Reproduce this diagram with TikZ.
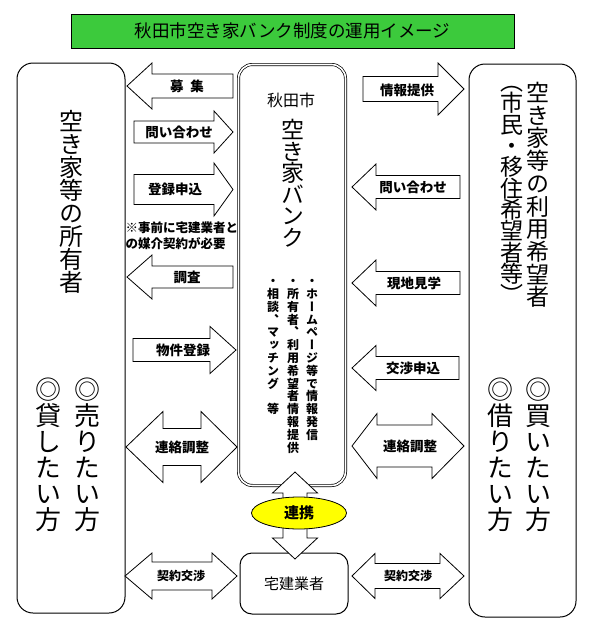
\documentclass[tikz,border=0pt]{standalone}
\usepackage{fontspec}
\setmainfont{Noto Sans CJK JP}
\newfontfamily\tatefont[RawFeature=+vert]{Noto Sans CJK JP}
\usetikzlibrary{shapes.geometric}

\definecolor{titlegreen}{RGB}{60,202,60}
\definecolor{tieyellow}{RGB}{255,255,0}

% vertical column of characters: #1 = step, #2 = text
\newcommand\tate[2]{\vbox{\baselineskip=#1\lineskiplimit=-100pt\lineskip=0pt\tateloop#2\relax}}
\def\tateloop#1{\ifx#1\relax\else\hbox to 1em{\hss#1\hss}\expandafter\tateloop\fi}

% block arrow: tail x, head base x, tip x, y, half shaft, half head
\newcommand\blockarrow[6]{%
  \draw[barrow] ({#1},{#4-#5}) -- ({#2},{#4-#5}) -- ({#2},{#4-#6}) -- ({#3},{#4})
    -- ({#2},{#4+#6}) -- ({#2},{#4+#5}) -- ({#1},{#4+#5}) -- cycle;}
% double block arrow: left tip, left base, right base, right tip, y, half shaft, half head
\newcommand\dblarrow[7]{%
  \draw[barrow] ({#1},{#5}) -- ({#2},{#5-#7}) -- ({#2},{#5-#6}) -- ({#3},{#5-#6})
    -- ({#3},{#5-#7}) -- ({#4},{#5}) -- ({#3},{#5+#7}) -- ({#3},{#5+#6})
    -- ({#2},{#5+#6}) -- ({#2},{#5+#7}) -- cycle;}

\begin{document}
\begin{tikzpicture}[x=1pt,y=-1pt,line width=1pt,
  box/.style={draw,rounded corners=16pt,inner sep=0pt},
  barrow/.style={draw,fill=white,line width=0.8pt,line join=miter},
  lbl/.style={inner sep=0pt,font=\bfseries\fontsize{13.5}{14}\selectfont},
  slbl/.style={inner sep=0pt,font=\bfseries\fontsize{12}{12}\selectfont},
  tatelbl/.style={inner sep=0pt}]
\useasboundingbox (0,0) rectangle (606,627);
% ---------- title ----------
\node[draw,fill=titlegreen,minimum width=443pt,minimum height=34pt,inner sep=0pt,
  font=\fontsize{17.5}{18}\selectfont] (title) at (292.5,31) {秋田市空き家バンク制度の運用イメージ};
% ---------- boxes ----------
\node[box,minimum width=108pt,minimum height=550pt] (owner) at (71,338) {};
\node[box,minimum width=107pt,minimum height=553pt] (user) at (522.5,340.5) {};
\node[box,double,line width=0.7pt,double distance=1.6pt,rounded corners=14pt,
  minimum width=107pt,minimum height=421pt] (bank) at (292,275) {};
\node[box,rounded corners=12pt,minimum width=108pt,minimum height=61pt,
  font=\fontsize{15}{15}\selectfont] (agent) at (294,583.5) {宅建業者};
% ---------- owner side text ----------
\node[tatelbl,font=\tatefont\fontsize{24}{24}\selectfont] (ownername) at (71,202)
  {\tate{23pt}{空き家等の所有者}};
\node[tatelbl,font=\tatefont\fontsize{26}{26}\selectfont] (sell) at (87,455)
  {\tate{26pt}{◎売りたい方}};
\node[tatelbl,font=\tatefont\fontsize{26}{26}\selectfont] (lend) at (48,455)
  {\tate{26pt}{◎貸したい方}};
% ---------- bank text ----------
\node[inner sep=0pt,font=\fontsize{16}{16}\selectfont] (akita) at (291,100) {秋田市};
\node[tatelbl,font=\tatefont\fontsize{23}{23}\selectfont] (bankname) at (293,183)
  {\tate{21.5pt}{空き家バンク}};
\node[tatelbl,anchor=north,font=\tatefont\bfseries\fontsize{12}{12}\selectfont] (task1) at (312,279)
  {\tate{12.8pt}{・ホームページ等で情報発信}};
\node[tatelbl,anchor=north,font=\tatefont\bfseries\fontsize{12}{12}\selectfont] (task2) at (293,279)
  {\tate{12.8pt}{・所有者、利用希望者情報提供}};
\node[tatelbl,anchor=north,font=\tatefont\bfseries\fontsize{12}{12}\selectfont] (task3) at (273,279)
  {\tate{12.8pt}{・相談、マッチング~等}};
% ---------- user side text ----------
\node[tatelbl,font=\tatefont\fontsize{23}{23}\selectfont] (username) at (538,195)
  {\tate{22.7pt}{空き家等の利用希望者}};
\node[tatelbl,font=\tatefont\fontsize{23}{23}\selectfont] (usernote) at (512,195)
  {\tate{21.3pt}{（市民・移住希望者等）}};
\node[tatelbl,font=\tatefont\fontsize{26}{26}\selectfont] (buy) at (538,455)
  {\tate{26pt}{◎買いたい方}};
\node[tatelbl,font=\tatefont\fontsize{26}{26}\selectfont] (rent) at (500,455)
  {\tate{26pt}{◎借りたい方}};
% ---------- arrows owner <-> bank ----------
\blockarrow{233}{152}{127}{86}{12}{23}
\node[lbl] (bosyu) at (187,86) {募\hspace{0.5em}集};
\blockarrow{134}{214}{233}{132}{11}{21}
\node[lbl] (toiawase1) at (179,132) {問い合わせ};
\blockarrow{134}{214}{233}{189.5}{15}{26.5}
\node[lbl] (touroku) at (175,189) {登録申込};
\node[anchor=west,align=left,inner sep=0pt,font=\bfseries\fontsize{12.5}{16}\selectfont] (note)
  at (125,236) {※事前に宅建業者と\\の媒介契約が必要};
\blockarrow{233}{152}{127}{277}{11}{22}
\node[lbl] (chousa) at (187,277) {調査};
\blockarrow{133}{210}{236}{350}{11.5}{23.5}
\node[lbl] (bukken) at (183,350) {物件登録};
\dblarrow{126}{163}{201}{237}{447}{18.5}{35.5}
\node[lbl] (renraku1) at (182,447) {連絡調整};
\dblarrow{125}{152}{212}{237}{576}{14}{23}
\node[slbl] (keiyaku1) at (181,576) {契約交渉};
% ---------- arrows bank <-> user ----------
\blockarrow{363}{438}{464}{89}{12.5}{26}
\node[lbl] (jouhou) at (407,90) {情報提供};
\blockarrow{460}{376}{352}{187}{11.5}{23}
\node[lbl] (toiawase2) at (413,187) {問い合わせ};
\blockarrow{460}{376}{352}{283}{11.5}{23}
\node[lbl] (genchi) at (414,283) {現地見学};
\blockarrow{459}{376}{352}{368}{11.5}{22.5}
\node[lbl] (koushou) at (413,368) {交渉申込};
\dblarrow{352}{377}{432}{464}{446}{21}{32.5}
\node[lbl] (renraku2) at (410,446) {連絡調整};
\dblarrow{352}{375}{440}{464}{576}{12.5}{22.5}
\node[slbl] (keiyaku2) at (408,576) {契約交渉};
% ---------- bank <-> agent ----------
\draw[barrow] (295,472) -- (317.5,493) -- (307,493) -- (307,538) -- (317.5,538)
  -- (295,559) -- (272.5,538) -- (283,538) -- (283,493) -- (272.5,493) -- cycle;
\node[ellipse,draw,fill=tieyellow,line width=0.8pt,minimum width=95pt,minimum height=32pt,inner sep=0pt,
  font=\bfseries\fontsize{15}{15}\selectfont] (renkei) at (299,513) {連携};
\end{tikzpicture}
\end{document}
